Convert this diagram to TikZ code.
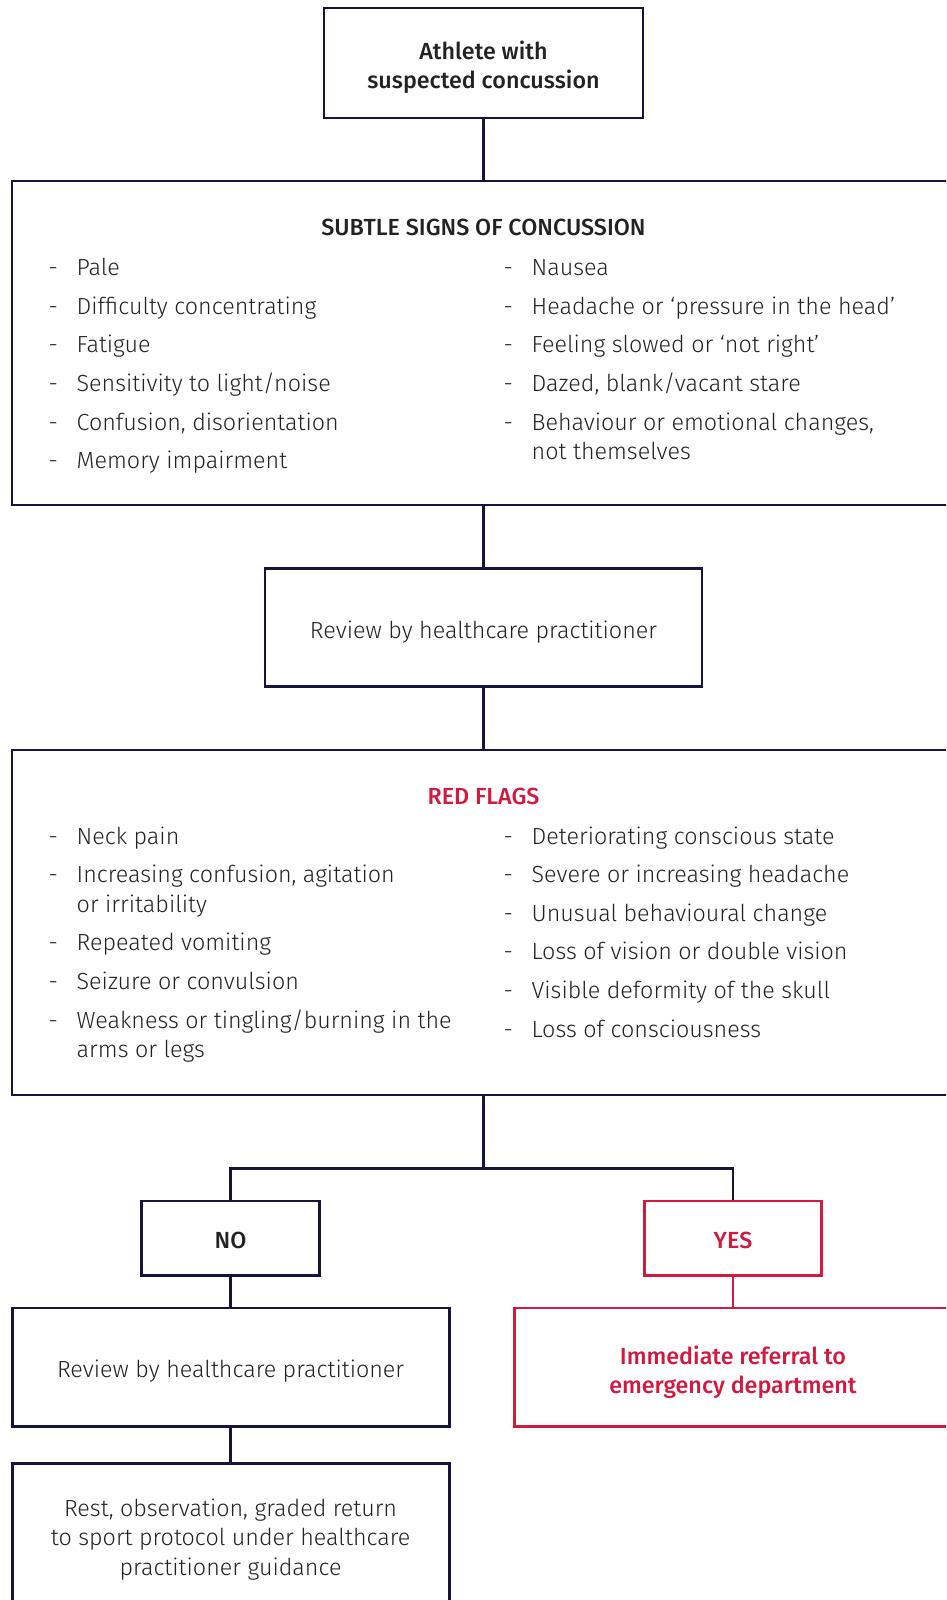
\documentclass[tikz,border=0pt]{standalone}
\usepackage{fontspec}
\setmainfont{Fira Sans Light}[BoldFont={Fira Sans Medium}]
\definecolor{navy}{HTML}{14143C}
\definecolor{flagred}{HTML}{D2193F}
\definecolor{ink}{HTML}{222222}
\newcommand{\bul}{\makebox[28pt][l]{-}}
\newcommand{\gap}{\hspace*{28pt}}
\newcommand{\txt}{\fontsize{23.3}{29.6}\selectfont}

\begin{document}
\begin{tikzpicture}
    [ x=1pt, y=-1pt
    , every node/.style={inner sep=0pt, text=ink, font=\txt}
    , box/.style={draw=navy, line width=2.8pt, minimum width=437pt}
    , redbox/.style={box, draw=flagred}
    , boxtext/.style={align=center}
    , item/.style={anchor=base west, align=left}
    , head/.style={anchor=base, font=\txt\bfseries}
    , link/.style={draw=navy, line width=2.8pt}
    ]
\useasboundingbox (0,0) rectangle (946,1600);
\clip (0,0) rectangle (946,1600);
% boxes
\node[box, minimum width=319pt, minimum height=110pt] (athlete) at (483.5,63) {};
\node[box, minimum width=943pt, minimum height=324pt] (subtle) at (483.5,343) {};
\node[box, minimum height=118.5pt] (review) at (483.5,627.5) {};
\node[box, minimum width=943pt, minimum height=345pt] (flags) at (483.5,922.5) {};
\node[box, minimum width=177.6pt, minimum height=74.6pt] (no) at (230.6,1238.3) {};
\node[redbox, minimum width=177.6pt, minimum height=74.6pt] (yes) at (733,1238.3) {};
\node[box, minimum height=118.6pt] (review2) at (230.6,1367.3) {};
\node[redbox, minimum height=118.6pt] (referral) at (733,1367.3) {};
\node[box, minimum height=149.2pt] (rest) at (230.6,1538) {};
% box texts
\node[boxtext, font=\fontsize{23.3}{28.6}\selectfont\bfseries] (athletetext) at ([yshift=-4pt]athlete.center) {Athlete with\\suspected concussion};
\node[boxtext] (reviewtext) at ([yshift=-5pt]review.center) {Review by healthcare practitioner};
\node[boxtext, font=\txt\bfseries] (notext) at ([yshift=-2pt]no.center) {NO};
\node[boxtext, font=\txt\bfseries, text=flagred] (yestext) at ([yshift=-2pt]yes.center) {YES};
\node[boxtext] (review2text) at ([yshift=-4pt]review2.center) {Review by healthcare practitioner};
\node[boxtext, font=\txt\bfseries, text=flagred] (referraltext) at ([yshift=-5pt]referral.center) {Immediate referral to\\emergency department};
\node[boxtext] (resttext) at ([yshift=-1.5pt]rest.center) {Rest, observation, graded return\\to sport protocol under healthcare\\practitioner guidance};
% subtle signs
\node[head] (subtlehead) at (483.5,235.6) {SUBTLE SIGNS OF CONCUSSION};
\node[item] (s1) at (48.5,275.7) {\bul Pale};
\node[item] (s2) at (48.5,314.3) {\bul Difficulty concentrating};
\node[item] (s3) at (48.5,352.9) {\bul Fatigue};
\node[item] (s4) at (48.5,391.5) {\bul Sensitivity to light/noise};
\node[item] (s5) at (48.5,430.1) {\bul Confusion, disorientation};
\node[item] (s6) at (48.5,468.7) {\bul Memory impairment};
\node[item] (s7) at (503.5,275.7) {\bul Nausea};
\node[item] (s8) at (503.5,314.3) {\bul Headache or ‘pressure in the head’};
\node[item] (s9) at (503.5,352.9) {\bul Feeling slowed or ‘not right’};
\node[item] (s10) at (503.5,391.5) {\bul Dazed, blank/vacant stare};
\node[item] (s11) at (503.5,459.7) {\bul Behaviour or emotional changes,\\\gap not themselves};
% red flags
\node[head, text=flagred] (flagshead) at (483.5,804.5) {RED FLAGS};
\node[item] (f1) at (48.5,844) {\bul Neck pain};
\node[item] (f2) at (48.5,912.2) {\bul Increasing confusion, agitation\\\gap or irritability};
\node[item] (f3) at (48.5,950.8) {\bul Repeated vomiting};
\node[item] (f4) at (48.5,989.4) {\bul Seizure or convulsion};
\node[item] (f5) at (48.5,1057.6) {\bul Weakness or tingling/burning in the\\\gap arms or legs};
\node[item] (f6) at (503.5,844) {\bul Deteriorating conscious state};
\node[item] (f7) at (503.5,882.6) {\bul Severe or increasing headache};
\node[item] (f8) at (503.5,921.2) {\bul Unusual behavioural change};
\node[item] (f9) at (503.5,959.8) {\bul Loss of vision or double vision};
\node[item] (f10) at (503.5,998.4) {\bul Visible deformity of the skull};
\node[item] (f11) at (503.5,1037) {\bul Loss of consciousness};
% connectors
\coordinate (split) at (483.5,1168.5);
\draw[link] (athlete.south) -- (subtle.north);
\draw[link] (subtle.south) -- (review.north);
\draw[link] (review.south) -- (flags.north);
\draw[link] (flags.south) -- (split);
\draw[link] (no.north) |- (split) -| (yes.north);
\draw[link] (no.south) -- (review2.north);
\draw[link] (review2.south) -- (rest.north);
\draw[link, draw=flagred] (yes.south) -- (referral.north);
\end{tikzpicture}
\end{document}
